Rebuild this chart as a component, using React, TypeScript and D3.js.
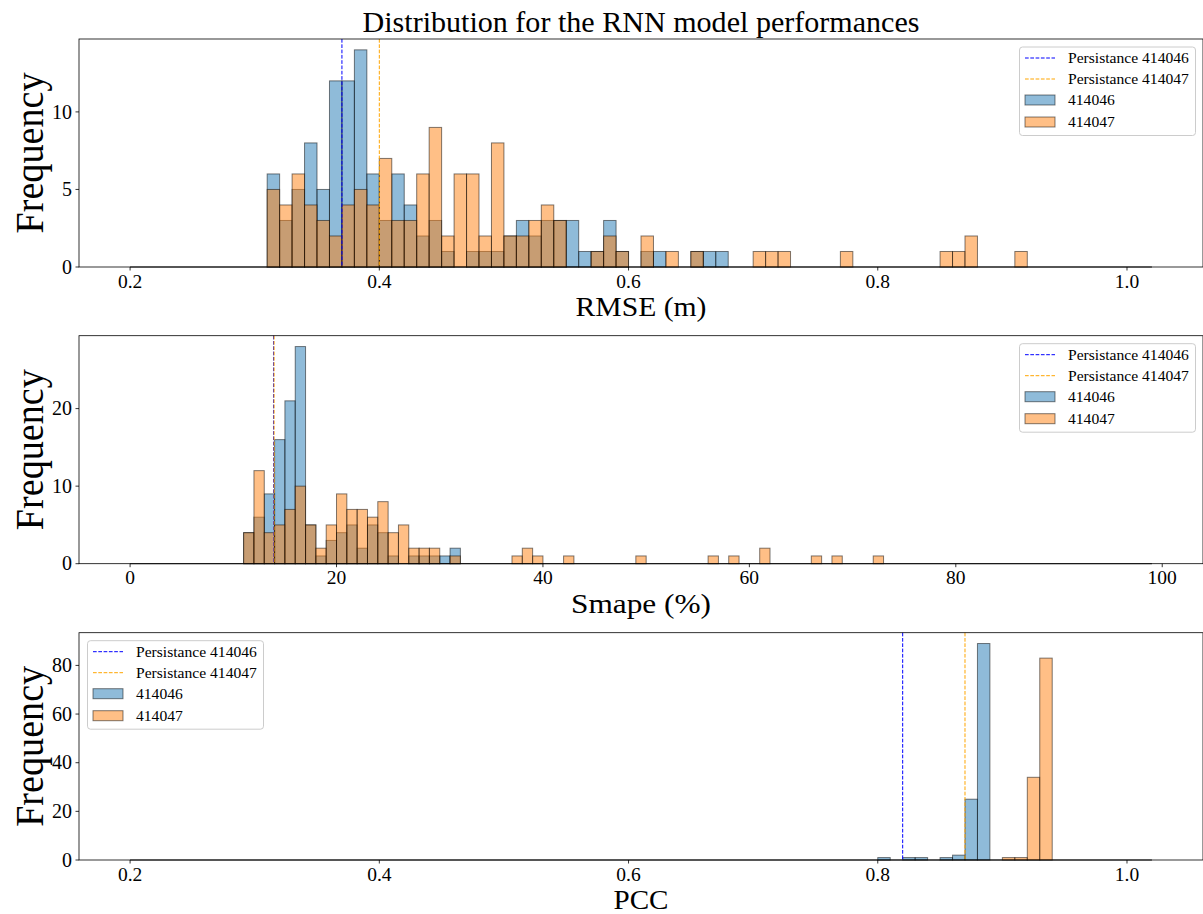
import React from 'react';
import * as d3 from 'd3';

const width = 1203;
const height = 914;

// histogram counts (bins of fixed width, from a start value)
const rmseRange = [0.2, 1.02];
const rmseStart = 0.31;
const rmseBin = 0.01;
const rmse414046 = [6, 3, 5, 8, 5, 12, 12, 14, 6, 3, 6, 4, 2, 3, 1, 0, 1, 1, 1, 2, 3, 2, 3, 3, 3, 1, 1, 3, 1, 0, 1, 1, 0, 0, 1, 1, 1];
const rmse414047 = [5, 4, 6, 4, 3, 2, 4, 5, 4, 7, 3, 3, 6, 9, 2, 6, 6, 2, 8, 2, 2, 3, 4, 3, 0, 0, 1, 2, 1, 0, 2, 0, 1, 0, 1, 0, 0, 0, 0, 1, 1, 1, 0, 0, 0, 0, 1, 0, 0, 0, 0, 0, 0, 0, 1, 1, 2, 0, 0, 0, 1];
const rmsePersist = [0.37, 0.4];

const smapeRange = [0, 99];
const smapeStart = 11;
const smapeBin = 1;
const smape414046 = [4, 6, 9, 16, 21, 28, 5, 1, 3, 4, 5, 2, 5, 4, 1, 0, 1, 1, 1, 1, 2];
const smape414047 = [4, 12, 4, 5, 7, 10, 5, 2, 5, 9, 7, 7, 6, 8, 4, 5, 2, 2, 2, 0, 1, 0, 0, 0, 0, 0, 1, 2, 1, 0, 0, 1, 0, 0, 0, 0, 0, 0, 1, 0, 0, 0, 0, 0, 0, 1, 0, 1, 0, 0, 2, 0, 0, 0, 0, 1, 0, 1, 0, 0, 0, 1];
const smapePersist = [13.9, 13.95];

const pccRange = [0.2, 1.02];
const pccStart = 0.8;
const pccBin = 0.01;
const pcc414046 = [1, 0, 1, 1, 0, 1, 2, 25, 89];
const pcc414047 = [0, 0, 0, 0, 0, 0, 0, 0, 0, 0, 1, 1, 34, 83];
const pccPersist = [0.82, 0.87];

const rmseTicks = [0.2, 0.4, 0.6, 0.8, 1.0];
const smapeTicks = [0, 20, 40, 60, 80, 100];
const pccTicks = [0.2, 0.4, 0.6, 0.8, 1.0];

const seriesNames = ['414046', '414047'];
const legendLabels = ['Persistance 414046', 'Persistance 414047', '414046', '414047'];

const fills = ['rgba(31,119,180,0.5)', 'rgba(255,127,14,0.5)'];
const lineColors = ['#0000ff', '#ffa500'];
const font = '"Liberation Serif", "Times New Roman", serif';

const left = 79;
const right = 1203;

const panels = [
  { top: 39, bottom: 267, range: rmseRange, start: rmseStart, bin: rmseBin, data: [rmse414046, rmse414047], persist: rmsePersist, xticks: rmseTicks, yticks: [0, 5, 10], fmt: d3.format('.1f'), xlabel: 'RMSE (m)', xlabelW: 131, legend: 'right' },
  { top: 335.7, bottom: 563.7, range: smapeRange, start: smapeStart, bin: smapeBin, data: [smape414046, smape414047], persist: smapePersist, xticks: smapeTicks, yticks: [0, 10, 20], fmt: d3.format('d'), xlabel: 'Smape (%)', xlabelW: 140, legend: 'right' },
  { top: 632.7, bottom: 860, range: pccRange, start: pccStart, bin: pccBin, data: [pcc414046, pcc414047], persist: pccPersist, xticks: pccTicks, yticks: [0, 20, 40, 60, 80], fmt: d3.format('.1f'), xlabel: 'PCC', xlabelW: 55, legend: 'left' },
];

function Legend({ x, y }: { x: number; y: number }) {
  const w = 176;
  const h = 88.5;
  return (
    <g transform={`translate(${x},${y})`}>
      <rect x={0.5} y={0.5} width={w} height={h} rx={3} fill="rgba(255,255,255,0.8)" stroke="#cccccc" strokeWidth={1} />
      {legendLabels.map((lab, i) => {
        const cy = Math.round(11 + 21.2 * i) + 0.5;
        return (
          <g key={lab}>
            {i < 2 ? (
              <line x1={6} x2={36} y1={cy} y2={cy} stroke={lineColors[i]} strokeWidth={1} strokeDasharray="3.7 1.6" />
            ) : (
              <rect x={6} y={cy - 5} width={30} height={10} fill={fills[i - 2]} stroke="rgba(0,0,0,0.5)" strokeWidth={1} />
            )}
            <text x={49} y={cy} dy="0.35em" fontSize={15.6} fontFamily={font} fill="#000">{lab}</text>
          </g>
        );
      })}
    </g>
  );
}

function Panel({ p }: { p: typeof panels[number] }) {
  const span = p.range[1] - p.range[0];
  const x = d3.scaleLinear().domain([p.range[0] - 0.05 * span, p.range[1] + 0.05 * span]).range([left, right]);
  const ymax = d3.max(p.data, (s) => d3.max(s)) as number;
  const y = d3.scaleLinear().domain([0, ymax * 1.05]).range([p.bottom, p.top]);
  const mid = (p.top + p.bottom) / 2;

  return (
    <g>
      {p.data.map((series, si) => (
        <g key={seriesNames[si]}>
          <line x1={x(p.range[0])} x2={x(p.range[1])} y1={y(0)} y2={y(0)} stroke="rgba(0,0,0,0.5)" strokeWidth={1} />
          {series.map((v, i) => {
            if (!v) return null;
            const x0 = x(p.start + i * p.bin);
            const x1 = x(p.start + (i + 1) * p.bin);
            return (
              <rect key={i} x={x0} y={y(v)} width={x1 - x0} height={y(0) - y(v)} fill={fills[si]} stroke="rgba(0,0,0,0.5)" strokeWidth={1} />
            );
          })}
        </g>
      ))}
      {p.persist.map((v, i) => (
        <line key={i} x1={x(v)} x2={x(v)} y1={p.top} y2={p.bottom} stroke={lineColors[i]} strokeWidth={1} strokeDasharray="3.7 1.6" />
      ))}
      {/* spines */}
      <rect x={left} y={p.top} width={right - left} height={p.bottom - p.top} fill="none" stroke="#000" strokeWidth={0.8} />
      {p.xticks.map((t) => (
        <g key={t} transform={`translate(${x(t)},${p.bottom})`}>
          <line y2={3.5} stroke="#000" strokeWidth={0.8} />
          <text y={20.5} textAnchor="middle" fontSize={19.5} fontFamily={font} fill="#000">{p.fmt(t)}</text>
        </g>
      ))}
      {p.yticks.map((t) => (
        <g key={t} transform={`translate(${left},${y(t)})`}>
          <line x2={-3.5} stroke="#000" strokeWidth={0.8} />
          <text x={-7} dy="0.33em" textAnchor="end" fontSize={20} fontFamily={font} fill="#000">{t}</text>
        </g>
      ))}
      <text x={(left + right) / 2} y={p.bottom + 49} textAnchor="middle" fontSize={27} fontFamily={font} fill="#000" textLength={p.xlabelW} lengthAdjust="spacingAndGlyphs">{p.xlabel}</text>
      <text transform={`translate(43,${mid}) rotate(-90)`} textAnchor="middle" fontSize={41} fontFamily={font} fill="#000" textLength={161} lengthAdjust="spacingAndGlyphs">Frequency</text>
      {p.legend === 'right' ? <Legend x={1019} y={p.top + 7.5} /> : <Legend x={87} y={p.top + 7.5} />}
    </g>
  );
}

export default function App() {
  return (
    <svg width={width} height={height} style={{ position: 'absolute', left: 0, top: 0, background: '#fff' }}>
      <rect width={width} height={height} fill="#fff" />
      <text x={(left + right) / 2} y={32} textAnchor="middle" fontSize={30} fontFamily={font} fill="#000" textLength={557} lengthAdjust="spacingAndGlyphs">Distribution for the RNN model performances</text>
      {panels.map((p) => (
        <Panel key={p.xlabel} p={p} />
      ))}
    </svg>
  );
}
